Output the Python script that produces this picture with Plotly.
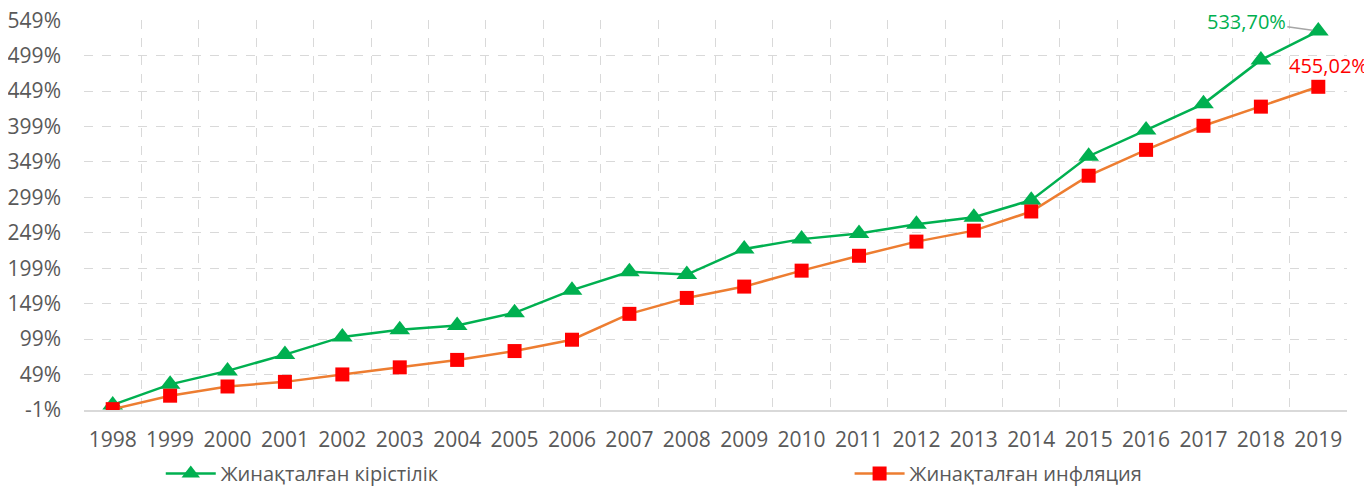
import plotly.graph_objects as go

years = [str(y) for y in range(1998, 2020)]
returns = [6, 35, 54, 77, 102, 112, 118, 136, 168, 194, 190, 226, 240, 248,
           261, 271, 295, 357, 394, 431, 493, 533.70]
inflation = [0, 19, 32, 38.5, 49, 59, 69.5, 82, 98, 134.5, 157, 173, 195.5, 216.5,
             236.5, 252, 279, 329.5, 366, 400, 427, 455.02]
ytick_vals = list(range(-1, 550, 50))
ytick_text = [f"{v}%" for v in ytick_vals]
series_names = ["Жинақталған кірістілік", "Жинақталған инфляция"]

xs = list(range(len(years)))
GRID = "#d9d9d9"
TXT = "#595959"
FONT = "Open Sans"

fig = go.Figure()
fig.add_trace(go.Scatter(
    x=xs, y=returns, name=series_names[0], mode="lines+markers",
    line=dict(color="#00B050", width=2.5),
    marker=dict(symbol="triangle-up", size=18, color="#00B050"),
    legend="legend",
))
fig.add_trace(go.Scatter(
    x=xs, y=inflation, name=series_names[1], mode="lines+markers",
    line=dict(color="#ED7D31", width=2.5),
    marker=dict(symbol="square", size=14, color="#FF0000"),
    legend="legend2",
))

last = len(years) - 1
fig.add_annotation(
    x=xs[last], y=returns[last], xref="x", yref="y",
    text=f"{returns[last]:.2f}%".replace(".", ","),
    showarrow=True, arrowhead=0, arrowwidth=1.5, arrowcolor="#a6a6a6",
    ax=-72, ay=-10, standoff=6,
    font=dict(family=FONT, size=20, color="#00B050"),
)
fig.add_annotation(
    x=xs[last], y=inflation[last], xref="x", yref="y",
    text=f"{inflation[last]:.2f}%".replace(".", ","),
    showarrow=False, xanchor="right", xshift=52, yshift=21,
    font=dict(family=FONT, size=20, color="#FF0000"),
)

legend_common = dict(
    orientation="h", xref="container", yref="container",
    yanchor="middle", y=0.03, xanchor="left",
    font=dict(family=FONT, size=20, color=TXT), itemwidth=50,
    bgcolor="rgba(0,0,0,0)",
)
fig.update_layout(
    width=1364, height=480,
    margin=dict(l=76, r=25, t=12, b=78),
    plot_bgcolor="white", paper_bgcolor="white",
    font=dict(family=FONT, size=21, color=TXT),
    showlegend=True,
    legend=dict(x=0.112, **legend_common),
    legend2=dict(x=0.617, **legend_common),
)
fig.update_xaxes(
    range=[-0.5, len(years) - 0.5],
    tickvals=xs, ticktext=years, automargin=False,
    showgrid=False, zeroline=False,
    showline=True, linecolor=GRID, linewidth=2,
    ticks="", ticklabelstandoff=10,
    tickfont=dict(family=FONT, size=21, color=TXT),
    minor=dict(tickvals=[i - 0.5 for i in range(len(years) + 1)],
               showgrid=True, gridcolor=GRID, griddash="dash", gridwidth=1,
               ticks=""),
)
fig.update_yaxes(
    range=[-1.2, 549.3], automargin=False, ticklabeloverflow="allow",
    tickvals=ytick_vals, ticktext=ytick_text,
    showgrid=True, gridcolor=GRID, griddash="dash", gridwidth=1,
    zeroline=False, showline=False, ticks="", ticklabelstandoff=22,
    tickfont=dict(family=FONT, size=21, color=TXT),
)

fig.write_html("out.html")
